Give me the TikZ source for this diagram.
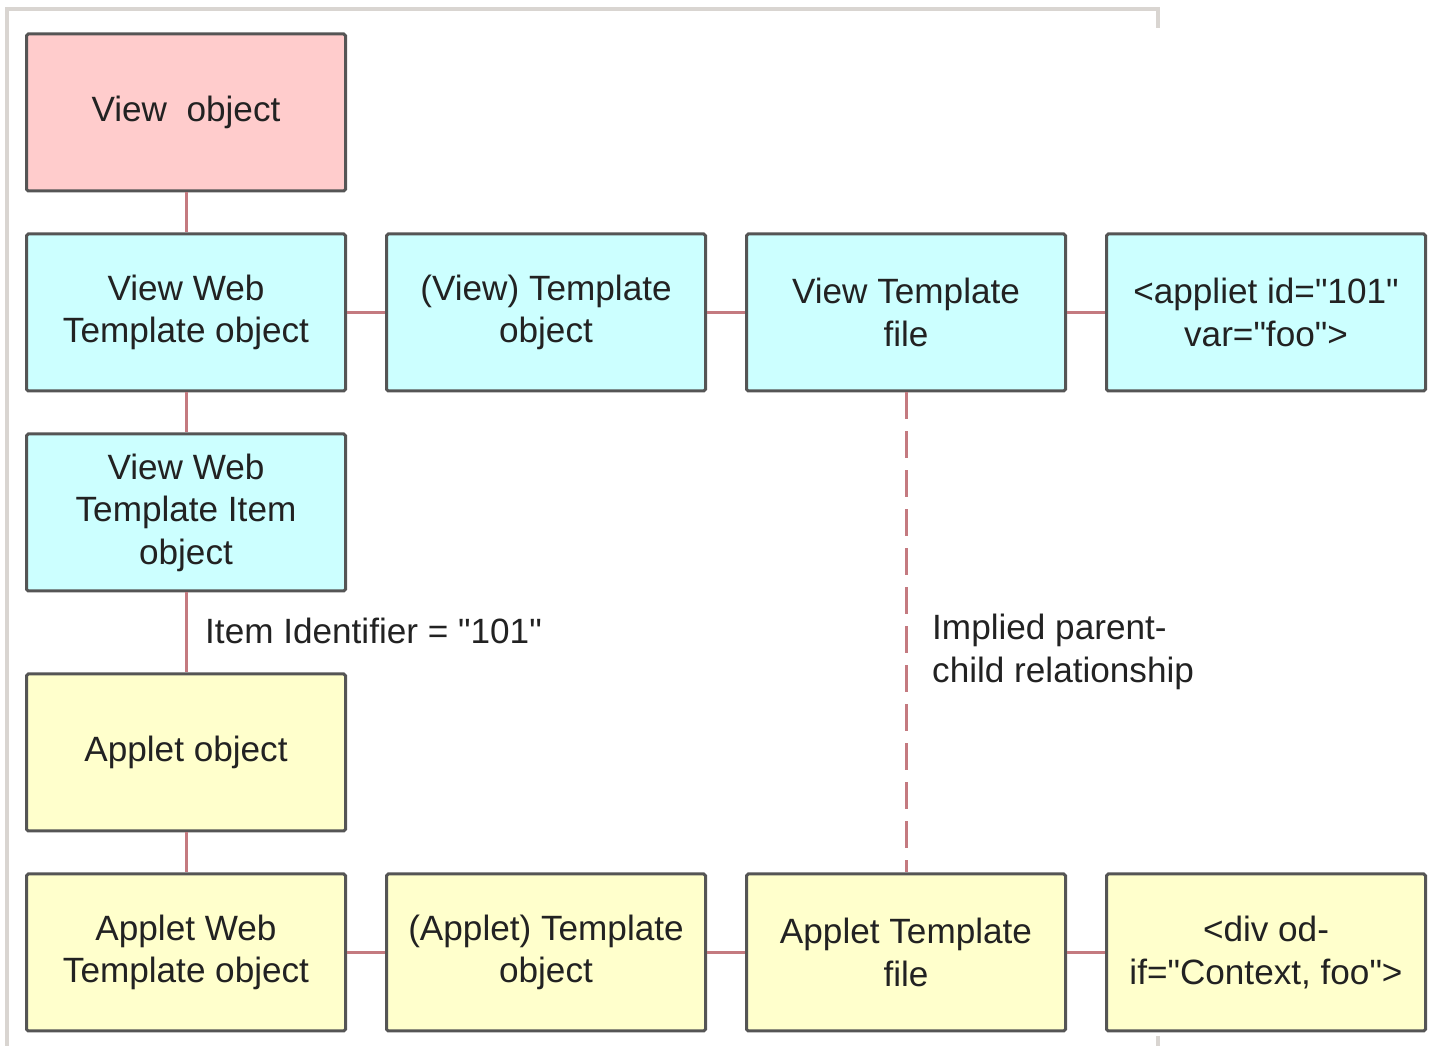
\documentclass[tikz,border=0pt]{standalone}
\usepackage{fontspec}
\setmainfont{Liberation Sans}[Ligatures=TeXOff]
\usepackage{tikz}
\usetikzlibrary{positioning}

\definecolor{pinkfill}{HTML}{FFCCCC}
\definecolor{cyanfill}{HTML}{CCFFFF}
\definecolor{yellowfill}{HTML}{FFFFCC}
\definecolor{boxline}{HTML}{555555}
\definecolor{linkred}{HTML}{C47A80}
\definecolor{framegray}{HTML}{D9D5D1}
\definecolor{textdark}{HTML}{222222}

\begin{document}
\begin{tikzpicture}[
    node distance=0.8cm and 0.76cm,
    box/.style={rectangle, draw=boxline, line width=0.06cm, rounded corners=1pt,
                minimum width=6.38cm, minimum height=3.14cm, align=center,
                text=textdark, font=\fontsize{20}{24.2}\selectfont},
    pinkbox/.style={box, fill=pinkfill},
    cyanbox/.style={box, fill=cyanfill},
    yellowbox/.style={box, fill=yellowfill},
    link/.style={draw=linkred, line width=0.06cm},
    note/.style={anchor=west, align=left, text=textdark,
                 font=\fontsize{20}{24.2}\selectfont},
    frame/.style={draw=framegray, line width=0.08cm},
]
\useasboundingbox (0,0) rectangle (28.68,20.92);
\draw[frame] (23.16,20.36) |- (0.14,20.74) -- (0.14,0);
\draw[frame] (23.16,0.2) -- (23.16,0);

\node[pinkbox] (view) at (3.72,18.67) {View\ \ object};
\node[cyanbox, below=of view] (vwt) {View Web\\Template object};
\node[cyanbox, right=of vwt] (vtmpl) {(View) Template\\object};
\node[cyanbox, right=of vtmpl] (vtfile) {View Template\\file};
\node[cyanbox, right=of vtfile] (vapplet) {<appliet id="101"\\var="foo">};
\node[cyanbox, below=of vwt] (vwti) {View Web\\Template Item\\object};
\node[yellowbox, below=1.6cm of vwti] (applet) {Applet object};
\node[yellowbox, below=of applet] (awt) {Applet Web\\Template object};
\node[yellowbox, right=of awt] (atmpl) {(Applet) Template\\object};
\node[yellowbox, right=of atmpl] (atfile) {Applet Template\\file};
\node[yellowbox, right=of atfile] (adiv) {<div od-\\if="Context, foo">};

\node[note] (itemid) at (3.98,8.3) {Item Identifier = "101"};
\node[note] (implied) at (18.52,7.88) {Implied parent-\\child relationship};

\draw[link] (view) -- (vwt);
\draw[link] (vwt) -- (vtmpl);
\draw[link] (vtmpl) -- (vtfile);
\draw[link] (vtfile) -- (vapplet);
\draw[link] (vwt) -- (vwti);
\draw[link] (vwti) -- (applet);
\draw[link] (applet) -- (awt);
\draw[link] (awt) -- (atmpl);
\draw[link] (atmpl) -- (atfile);
\draw[link] (atfile) -- (adiv);
\draw[link, dash pattern=on 0.54cm off 0.24cm] (vtfile) -- (atfile);
\end{tikzpicture}
\end{document}
